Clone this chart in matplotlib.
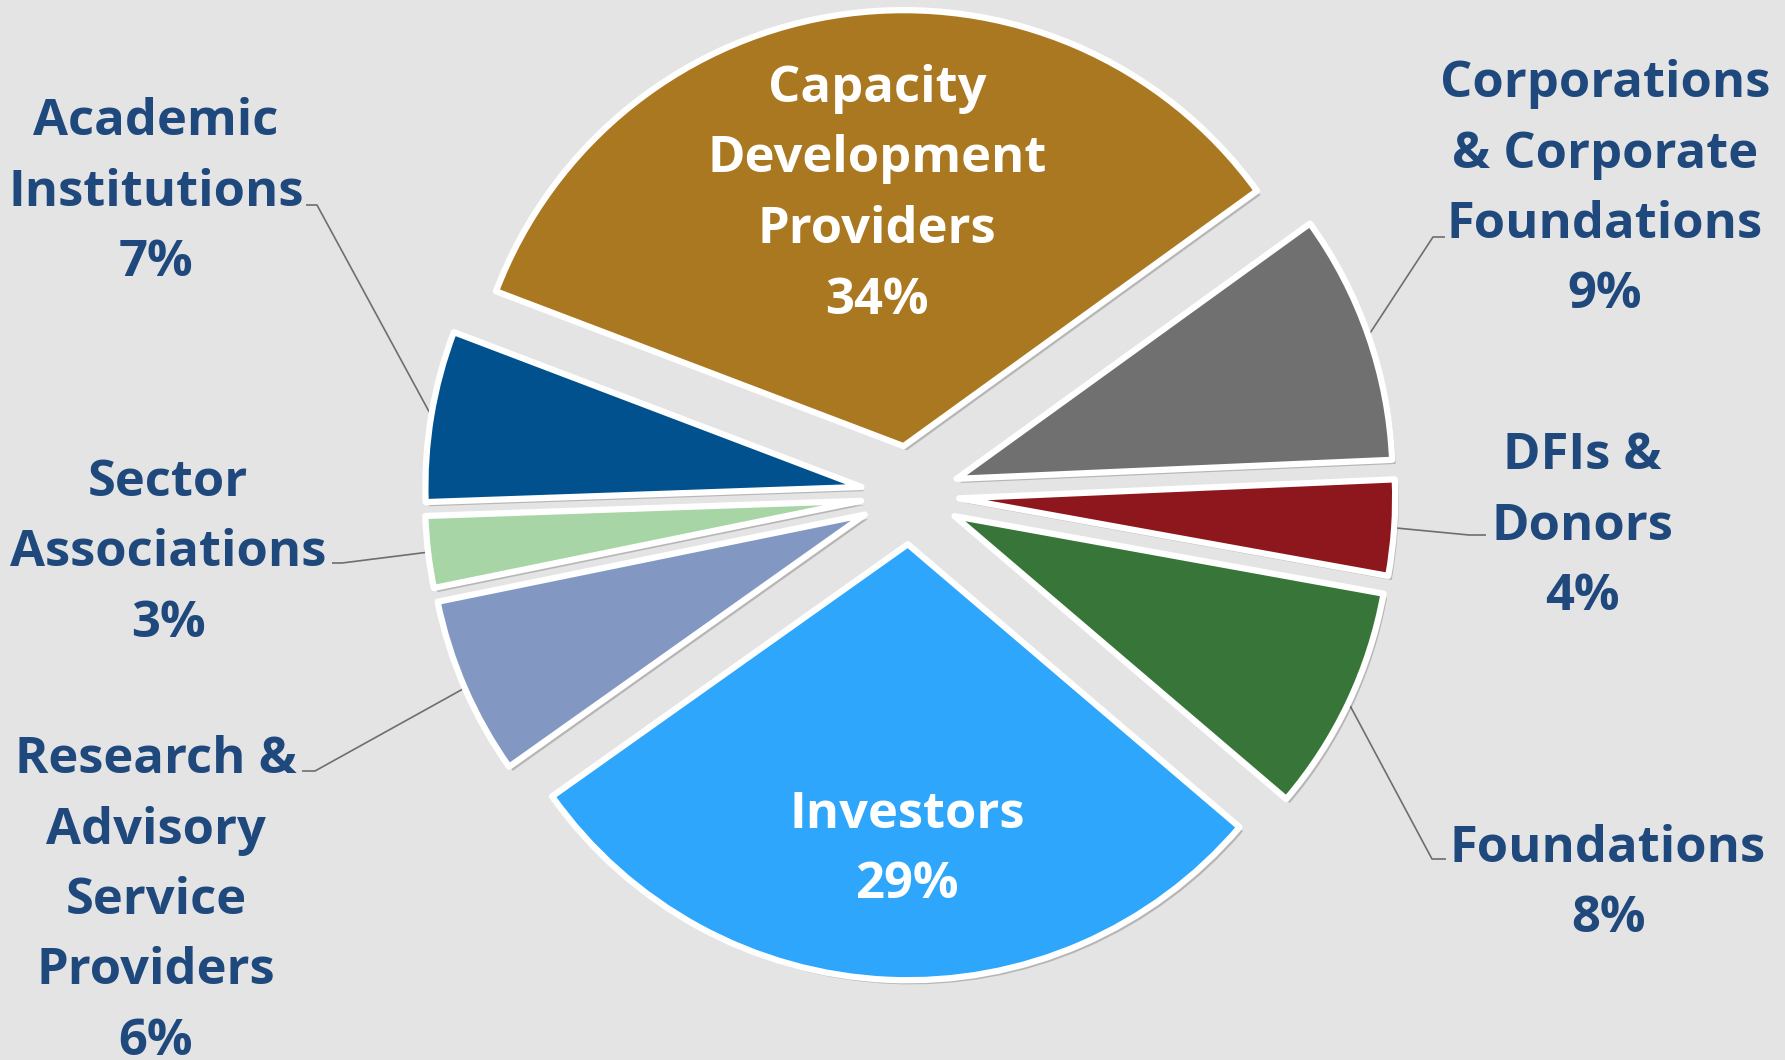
import matplotlib
matplotlib.use("Agg")
import matplotlib.pyplot as plt
import matplotlib.patheffects as pe
import numpy as np

# ---- data ----
categories = ["Capacity\nDevelopment\nProviders",
              "Corporations\n& Corporate\nFoundations",
              "DFIs &\nDonors",
              "Foundations",
              "Investors",
              "Research &\nAdvisory\nService\nProviders",
              "Sector\nAssociations",
              "Academic\nInstitutions"]
# wedge sizes as measured from the slice angles (percent)
shares = [34.26, 9.26, 3.54, 8.39, 28.94, 6.61, 2.65, 6.33]
# percentages as printed on the labels
label_pcts = [34, 9, 4, 8, 29, 6, 3, 7]
colors = ["#AA7820", "#707070", "#8E171D", "#377538",
          "#2EA6FB", "#8298C2", "#A8D5A6", "#00518E"]

# ---- layout (pixels in the 1785x1060 canvas) ----
W, H = 1785, 1060
CX, CY, R = 910, 495, 436
BG = "#E4E4E4"
TXT = "#1F497D"
LINE_STEP = 70.5
# label x-centre, first baseline, colour, leader (elbow, end) or None
label_layout = [
    (877, 102, "white", None),
    (1605, 97, TXT, ((1433, 237), (1445, 237))),
    (1582, 469, TXT, ((1469, 535), (1486, 535))),
    (1608, 862, TXT, ((1432, 859), (1446, 859))),
    (907, 828, "white", None),
    (156, 773, TXT, ((315, 771), (302, 771))),
    (168, 496, TXT, ((342, 563), (332, 563))),
    (156, 135, TXT, ((317, 205), (306, 205))),
]


def px(x, y):
    return ((x - CX) / R, (CY - y) / R)


fig = plt.figure(figsize=(W / 100, H / 100), dpi=100, facecolor=BG)
ax = fig.add_axes([0, 0, 1, 1])
ax.set_facecolor(BG)

wedges, _ = ax.pie(shares, explode=[0.113] * len(shares), startangle=159.2,
                   counterclock=False, colors=colors, radius=1,
                   normalize=True,
                   wedgeprops=dict(edgecolor="white", linewidth=4.5,
                                   joinstyle="round"))
for w in wedges:
    w.set_path_effects([pe.SimplePatchShadow(offset=(2.5, -3), alpha=0.2,
                                             shadow_rgbFace="black"),
                        pe.Normal()])

ax.set_aspect("auto")
ax.set_xlim(-CX / R, (W - CX) / R)
ax.set_ylim(-(H - CY) / R, CY / R)
ax.axis("off")

font = dict(family=["Open Sans", "DejaVu Sans"], weight="bold", fontsize=36.5)

for w, cat, val, (lx, ly, col, leader) in zip(wedges, categories, label_pcts, label_layout):
    lines = cat.split("\n") + [f"{val}%"]
    for i, line in enumerate(lines):
        x, y = px(lx, ly + i * LINE_STEP)
        ax.text(x, y, line, ha="center", va="baseline", color=col, **font)
    if leader is not None:
        mid = np.deg2rad((w.theta1 + w.theta2) / 2)
        sx = w.center[0] + w.r * np.cos(mid)
        sy = w.center[1] + w.r * np.sin(mid)
        ex, ey = px(*leader[0])
        tx, ty = px(*leader[1])
        ax.plot([sx, ex, tx], [sy, ey, ty], color="#6E6E6E", lw=1.2,
                zorder=0.5, solid_capstyle="butt")

fig.savefig("out.png", dpi=100, facecolor=BG)
